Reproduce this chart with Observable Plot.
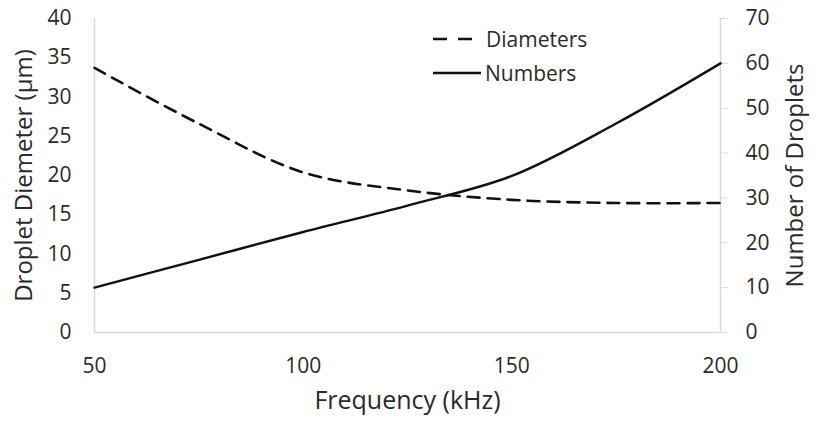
<!DOCTYPE html>
<html><head><meta charset="utf-8">
<script src="https://cdn.jsdelivr.net/npm/d3@7"></script>
<script src="https://cdn.jsdelivr.net/npm/@observablehq/plot@0.6"></script>
<style>
body{margin:0;background:#fff;font-family:"Open Sans",sans-serif;}
#wrap{position:relative;width:817px;height:430px;}
#legend{position:absolute;left:430px;top:22px;font-size:21px;color:#2a2a2a;}
#legend div{display:flex;align-items:center;height:34px;}
</style></head><body>
<div id="wrap"><div id="legend"></div></div>
<script>
const frequency = [50, 75, 100, 125, 150, 175, 200];
const diameters = [33.7, 26.6, 20.4, 18.1, 16.9, 16.5, 16.5];
const numbers   = [10, 16.2, 22.4, 28.3, 34.9, 46.6, 60];
const leftTicks = [0, 5, 10, 15, 20, 25, 30, 35, 40];
const rightTicks = [0, 10, 20, 30, 40, 50, 60, 70];
const xTicks = [50, 100, 150, 200];
const leftMax = 40, rightMax = 70;
const k = leftMax / rightMax;

const dData = frequency.map((f, i) => ({f, v: diameters[i]}));
const nData = frequency.map((f, i) => ({f, v: numbers[i] * k}));

const plot = Plot.plot({
  width: 817, height: 430,
  marginLeft: 94, marginRight: 97, marginTop: 18, marginBottom: 98,
  style: {fontFamily: "Open Sans", fontSize: "21px", color: "#2a2a2a", background: "transparent"},
  x: {domain: [50, 200]},
  y: {domain: [0, leftMax]},
  marks: [
    Plot.ruleX([50], {stroke: "#d9d9d9", strokeWidth: 1.5}),
    Plot.ruleY([0], {stroke: "#d9d9d9", strokeWidth: 1.5}),
    Plot.ruleX([200], {stroke: "#d9d9d9", strokeWidth: 1.5}),
    Plot.axisX({ticks: xTicks, tickSize: 0, tickPadding: 26, fontSize: 21, label: null}),
    Plot.axisX({ticks: [], label: "Frequency (kHz)", labelAnchor: "center", labelOffset: 76, labelArrow: "none", fontSize: 25}),
    Plot.axisY({anchor: "left", ticks: leftTicks, tickSize: 0, tickPadding: 23, fontSize: 21, label: null}),
    Plot.axisY({anchor: "left", ticks: [], label: "Droplet Diemeter (μm)", labelAnchor: "center", labelOffset: 80, labelArrow: "none", fontSize: 24}),
    Plot.axisY({anchor: "right", ticks: rightTicks.map(v => v * k), tickFormat: v => Math.round(v / k), tickSize: 7, tickPadding: 18, stroke: "#d9d9d9", fontSize: 21, label: null}),
    Plot.axisY({anchor: "right", ticks: [], label: "Number of Droplets", labelAnchor: "center", labelOffset: 82, labelArrow: "none", fontSize: 24}),
    Plot.line(dData, {x: "f", y: "v", curve: "catmull-rom", stroke: "#111", strokeWidth: 2.6, strokeDasharray: "12,8"}),
    Plot.line(nData, {x: "f", y: "v", curve: "catmull-rom", stroke: "#111", strokeWidth: 2.4})
  ]
});
document.getElementById("wrap").prepend(plot);

const legendItems = [
  {label: "Diameters", dash: "14,11"},
  {label: "Numbers", dash: null}
];
const lg = d3.select("#legend");
legendItems.forEach(it => {
  const row = lg.append("div");
  const s = row.append("svg").attr("width", 52).attr("height", 10);
  s.append("line").attr("x1", 3).attr("x2", it.dash ? 42 : 51).attr("y1", 5).attr("y2", 5)
    .attr("stroke", "#111").attr("stroke-width", 2.6).attr("stroke-dasharray", it.dash);
  row.append("span").text(it.label).style("margin-left", it.dash ? "4px" : "3px");
});
</script>
</body></html>
